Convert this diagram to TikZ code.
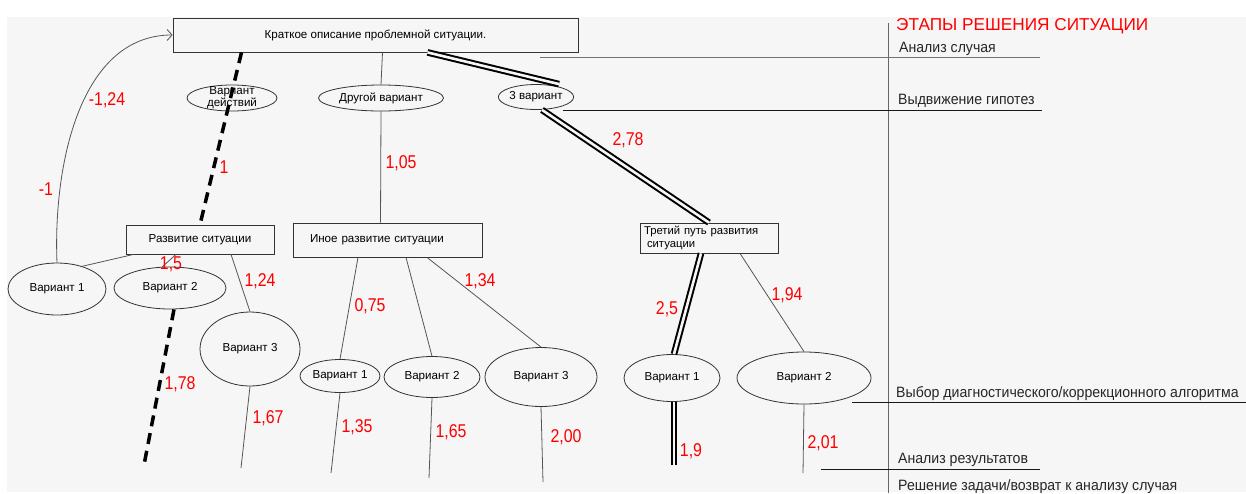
\documentclass[tikz,border=0pt]{standalone}
\usepackage{fontspec}
\setmainfont{Liberation Sans}
\newfontfamily\wtfont[FakeStretch=0.86]{Liberation Sans}
\newfontfamily\stagefont[FakeStretch=0.94]{Liberation Sans}
\usepackage{xcolor}
\usetikzlibrary{shapes.geometric,arrows.meta}
\definecolor{bg}{HTML}{F6F6F6}
\definecolor{ln}{HTML}{555555}

\begin{document}
\begin{tikzpicture}[x=1pt, y=-1pt,
  font=\fontsize{11.6}{13}\selectfont,
  box/.style={draw=black!80, line width=0.8pt, inner sep=2pt},
  var/.style={ellipse, draw=black!80, line width=0.8pt, inner sep=0pt},
  lnk/.style={draw=ln, line width=0.8pt},
  best/.style={draw=black, double=bg, line width=2pt, double distance=2.6pt},
  bad/.style={draw=black, line width=3.5pt, dash pattern=on 11pt off 7pt},
  wt/.style={text=red, inner sep=0pt, font=\wtfont\fontsize{18.5}{20}\selectfont},
  stage/.style={anchor=base west, inner sep=0pt, text=black!85,
                font=\stagefont\fontsize{15}{17}\selectfont}]

\useasboundingbox (0,0) rectangle (1246,493);
\fill[white] (0,0) rectangle (1246,493);
\fill[bg] (7,17) rectangle (1246,492);

% stages of the solution
\draw[black!60, line width=0.8pt] (888,23) -- (888,493);
\node[stage, text=red, font=\fontsize{17.2}{19}\selectfont] (title) at (896,30) {ЭТАПЫ РЕШЕНИЯ СИТУАЦИИ};
\node[stage] (s1) at (899,52) {Анализ случая};
\node[stage] (s2) at (898,104) {Выдвижение гипотез};
\node[stage] (s3) at (896,397) {Выбор диагностического/коррекционного алгоритма};
\node[stage] (s4) at (898,463) {Анализ результатов};
\node[stage] (s5) at (898,490) {Решение задачи/возврат к анализу случая};
\draw[black!55, line width=0.8pt] (540,57) -- (1040,57);
\draw[black!90, line width=0.8pt] (563,110) -- (1042,110);
\draw[black!90, line width=0.8pt] (852,402) -- (1246,402);
\draw[black!90, line width=0.8pt] (821,469) -- (1040,469);

% case and hypotheses
\node[box, minimum width=405pt, minimum height=34pt] (case) at (375.5,35)
  {Краткое описание проблемной ситуации.};
\node[var, minimum width=90pt, minimum height=26pt,
      label={[align=center, font=\fontsize{11.6}{12}\selectfont]center:Вариант\\действий}] (vd) at (232,98) {};
\node[var, minimum width=125pt, minimum height=26pt] (dv) at (381,98) {Другой вариант};
\node[var, minimum width=74pt, minimum height=25pt] (tv) at (536,97) {3 вариант};

\node[box, minimum width=148pt, minimum height=29pt] (rbox) at (200,239.5) {Развитие ситуации};
\node[box, minimum height=34pt, text width=155pt, inner xsep=17pt, align=left] (ibox) at (387.5,240)
  {Иное развитие ситуации};
\node[box, minimum height=30pt, text width=130pt, inner xsep=4pt, align=left,
      font=\fontsize{11.3}{13.5}\selectfont] (tbox) at (709,238)
  {Третий путь развития\\\hspace*{3pt}ситуации};

% algorithms
\node[var, minimum width=98pt, minimum height=52pt] (r1) at (57,289) {Вариант 1};
\node[var, minimum width=112pt, minimum height=42pt] (r2) at (170,288) {Вариант 2};
\node[var, minimum width=100pt, minimum height=74pt] (r3) at (250,349) {Вариант 3};
\node[var, minimum width=80pt, minimum height=33pt] (i1) at (340,376) {Вариант 1};
\node[var, minimum width=96pt, minimum height=41pt] (i2) at (432,377) {Вариант 2};
\node[var, minimum width=112pt, minimum height=59pt] (i3) at (541,377) {Вариант 3};
\node[var, minimum width=96pt, minimum height=47pt] (t1) at (672,378) {Вариант 1};
\node[var, minimum width=134pt, minimum height=52pt] (t2) at (804,378) {Вариант 2};

\coordinate (r2-end) at (144,465);
\coordinate (r3-end) at (241,468);
\coordinate (i1-end) at (331,473);
\coordinate (i2-end) at (429,478);
\coordinate (i3-end) at (543,482);
\coordinate (t1-end) at (674,465);
\coordinate (t2-end) at (803,473);

% paths
\draw[bad] ([xshift=-134pt]case.south) -- (rbox.north);
\draw[lnk] ([xshift=7pt]case.south) -- (dv.north);
\draw[lnk] (dv.south) -- ([xshift=-7pt]ibox.north);
\draw[best] ([xshift=52pt]case.south) -- ([xshift=23pt]tv.north);
\draw[best] ([xshift=6pt]tv.south) -- (tbox.north);

\draw[lnk] ([xshift=8pt]rbox.south west) -- (r1.42);
\draw[lnk] ([xshift=-24pt]rbox.south) -- (r2.110);
\draw[lnk] ([xshift=31pt]rbox.south) -- (r3.north);
\draw[lnk] ([xshift=-29.5pt]ibox.south) -- (i1.north);
\draw[lnk] ([xshift=18.5pt]ibox.south) -- (i2.north);
\draw[lnk] ([xshift=39.5pt]ibox.south) -- (i3.north);
\draw[best] ([xshift=-8pt]tbox.south) -- ([xshift=2pt]t1.north);
\draw[lnk] ([xshift=31pt]tbox.south) -- (t2.north);

\draw[bad] ([xshift=4pt]r2.south) -- (r2-end);
\draw[best] ([xshift=2pt]t1.south) -- (t1-end);
\foreach \v in {r3,i1,i2,i3,t2} \draw[lnk] (\v.south) -- (\v-end);

\draw[lnk, -{Straight Barb[length=5pt,width=11pt]}] (r1.north)
  .. controls (53,165) and (80,35) .. (case.west);

% weights
\foreach \n/\x/\y/\t in {wa/107/100/{-1,24}, wb/46/189/{-1}, wc/224/167/{1},
    wd/401/163/{1,05}, we/628/140/{2,78}, wf/171/264/{1,5}, wg/260/281/{1,24},
    wh/180/384/{1,78}, wi/268/418/{1,67}, wj/370/306/{0,75}, wk/480/281/{1,34},
    wl/357/427/{1,35}, wm/451/432/{1,65}, wn/566/437/{2,00}, wo/667/309/{2,5},
    wp/787/295/{1,94}, wq/691/451/{1,9}, wr/823/443/{2,01}}
  \node[wt] (\n) at (\x,\y) {\t};
\end{tikzpicture}
\end{document}
